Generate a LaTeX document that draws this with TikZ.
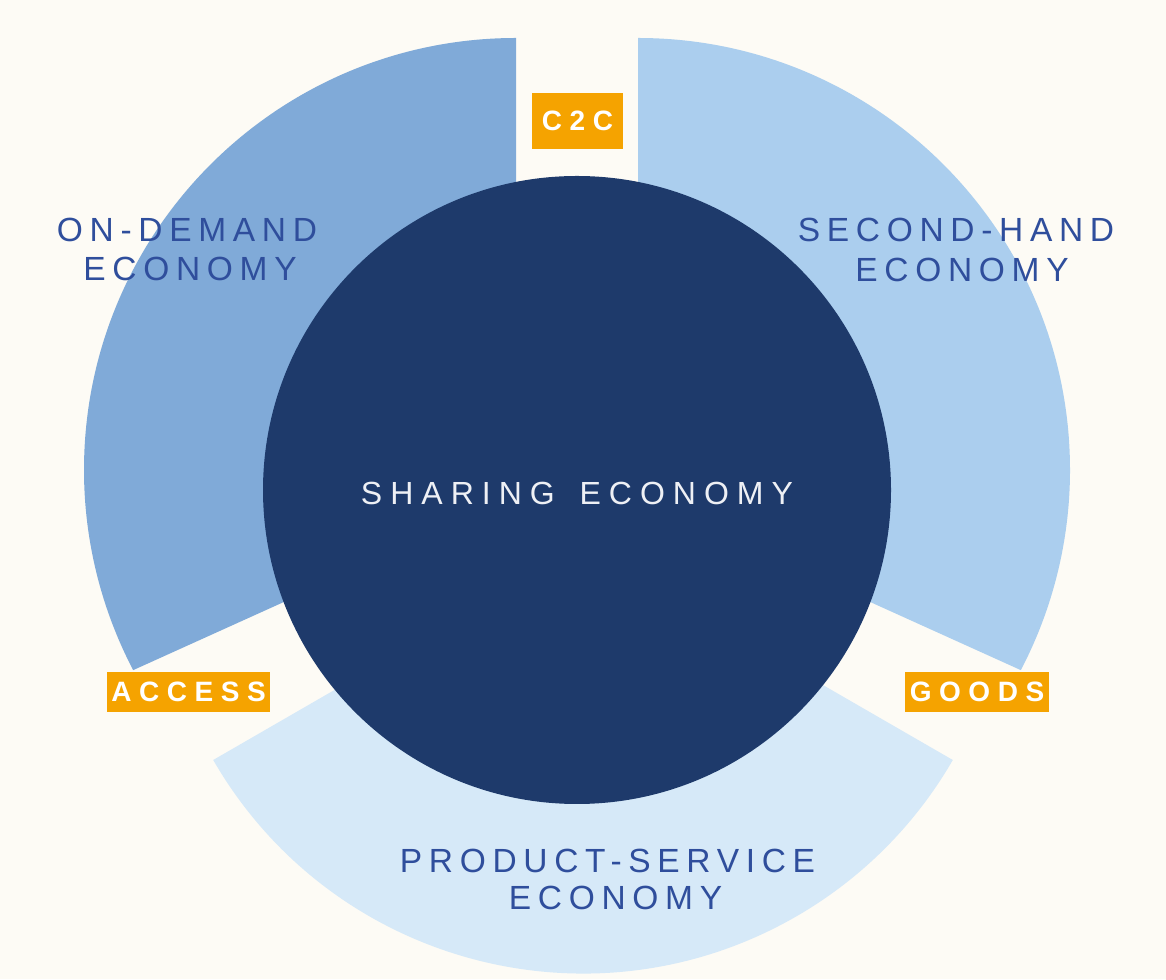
\documentclass[tikz,border=0pt]{standalone}
\usepackage{fontspec}
\setmainfont{Liberation Sans}
\newfontfamily\lblfont[LetterSpace=20]{Liberation Sans}
\newfontfamily\ctrfont[LetterSpace=25]{Liberation Sans}
\newfontfamily\tagfont[LetterSpace=27]{Liberation Sans}
\definecolor{bgc}{HTML}{FDFBF5}
\definecolor{segA}{HTML}{80AAD8}
\definecolor{segB}{HTML}{ABCEEE}
\definecolor{segC}{HTML}{D6E9F8}
\definecolor{core}{HTML}{1E3A6B}
\definecolor{tagc}{HTML}{F5A300}
\definecolor{lblc}{HTML}{2F4E9C}
\definecolor{coretxt}{HTML}{EEF0F5}
\tikzset{
  lbl/.style={inner sep=0pt, anchor=base, text=lblc, font=\lblfont\fontsize{16.75}{20}\selectfont},
  ctr/.style={inner sep=0pt, anchor=base, text=coretxt, font=\ctrfont\fontsize{16}{19}\selectfont},
  tagbox/.style={fill=tagc, inner sep=0pt, text=white, font=\tagfont\bfseries\fontsize{14}{16}\selectfont}
}
\begin{document}
\begin{tikzpicture}[x=0.5pt, y=0.5pt]
\useasboundingbox (0,0) rectangle (1166,979);
\fill[bgc] (0,0) rectangle (1166,979);
% bottom segment
\fill[segC] (583,432.5) -- ++(210:427) arc[start angle=210, end angle=330, radius=427] -- cycle;
% left segment
\fill[segA] (516,482) -- (516,941) arc[start angle=90, end angle=207.6, radius=432] -- cycle;
% right segment
\fill[segB] (638,482) -- (638,941) arc[start angle=90, end angle=-27.6, radius=432] -- cycle;
% core
\fill[core] (577,489) circle[radius=314];
\node[ctr] (core) at (577,474) {SHARING\ \hspace{4pt}ECONOMY};
% labels
\node[lbl] (od1) at (187,737) {ON-DEMAND};
\node[lbl] (od2) at (190,698) {ECONOMY};
\node[lbl] (sh1) at (956,737) {SECOND-HAND};
\node[lbl] (sh2) at (962,697) {ECONOMY};
\node[lbl] (ps1) at (607.5,106) {PRODUCT-SERVICE};
\node[lbl] (ps2) at (615.5,69) {ECONOMY};
% tags
\node[tagbox, minimum width=45.5pt, minimum height=28pt] (c2c) at (577.5,858) {C2C};
\node[tagbox, minimum width=81.5pt, minimum height=20pt] (access) at (188.5,287) {ACCESS};
\node[tagbox, minimum width=72pt, minimum height=20pt] (goods) at (977,287) {GOODS};
\end{tikzpicture}
\end{document}
